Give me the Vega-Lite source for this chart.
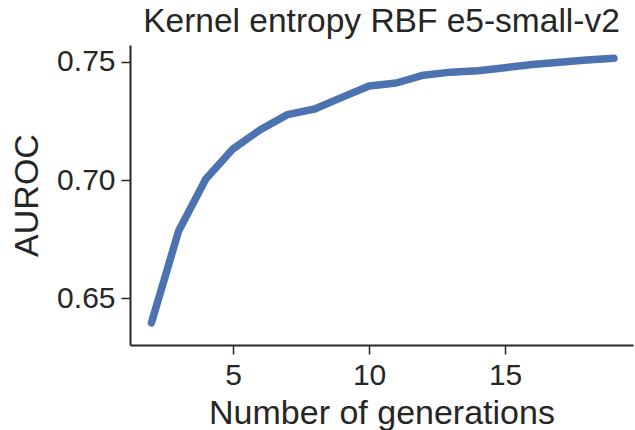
{
  "$schema": "https://vega.github.io/schema/vega-lite/v6.json",
  "autosize": {"type": "none"},
  "width": 503,
  "height": 300,
  "padding": {"left": 130, "top": 45, "right": 2, "bottom": 85},
  "background": "white",
  "title": {"text": "Kernel entropy RBF e5-small-v2", "font": "Liberation Sans", "fontSize": 33.5, "fontWeight": "normal", "color": "#262626", "anchor": "middle", "offset": 6},
  "config": {
    "view": {"stroke": null},
    "axis": {"grid": false, "domainColor": "#262626", "domainWidth": 2, "tickColor": "#262626", "tickWidth": 1.5, "tickSize": 9, "labelFont": "Liberation Sans", "labelFontSize": 30, "labelColor": "#262626", "titleFont": "Liberation Sans", "titleFontSize": 34, "titleFontWeight": "normal", "titleColor": "#262626", "labelPadding": 6}
  },
  "data": {"values": [
    {"n": 2, "auroc": 0.6395},
    {"n": 3, "auroc": 0.6784},
    {"n": 4, "auroc": 0.7004},
    {"n": 5, "auroc": 0.7132},
    {"n": 6, "auroc": 0.7213},
    {"n": 7, "auroc": 0.7277},
    {"n": 8, "auroc": 0.7301},
    {"n": 9, "auroc": 0.7350},
    {"n": 10, "auroc": 0.7398},
    {"n": 11, "auroc": 0.7411},
    {"n": 12, "auroc": 0.7444},
    {"n": 13, "auroc": 0.7457},
    {"n": 14, "auroc": 0.7463},
    {"n": 15, "auroc": 0.7476},
    {"n": 16, "auroc": 0.7489},
    {"n": 17, "auroc": 0.7499},
    {"n": 18, "auroc": 0.7508},
    {"n": 19, "auroc": 0.7516}
  ]},
  "mark": {"type": "line", "color": "#4c72b0", "strokeWidth": 7.5, "strokeCap": "round", "strokeJoin": "round"},
  "encoding": {
    "x": {"field": "n", "type": "quantitative", "title": "Number of generations", "scale": {"domain": [1.213, 19.7], "nice": false, "zero": false}, "axis": {"values": [5, 10, 15], "titlePadding": 6}},
    "y": {"field": "auroc", "type": "quantitative", "title": "AUROC", "scale": {"domain": [0.6301, 0.7572], "nice": false, "zero": false}, "axis": {"values": [0.65, 0.7, 0.75], "format": ".2f", "titlePadding": 12}}
  }
}
